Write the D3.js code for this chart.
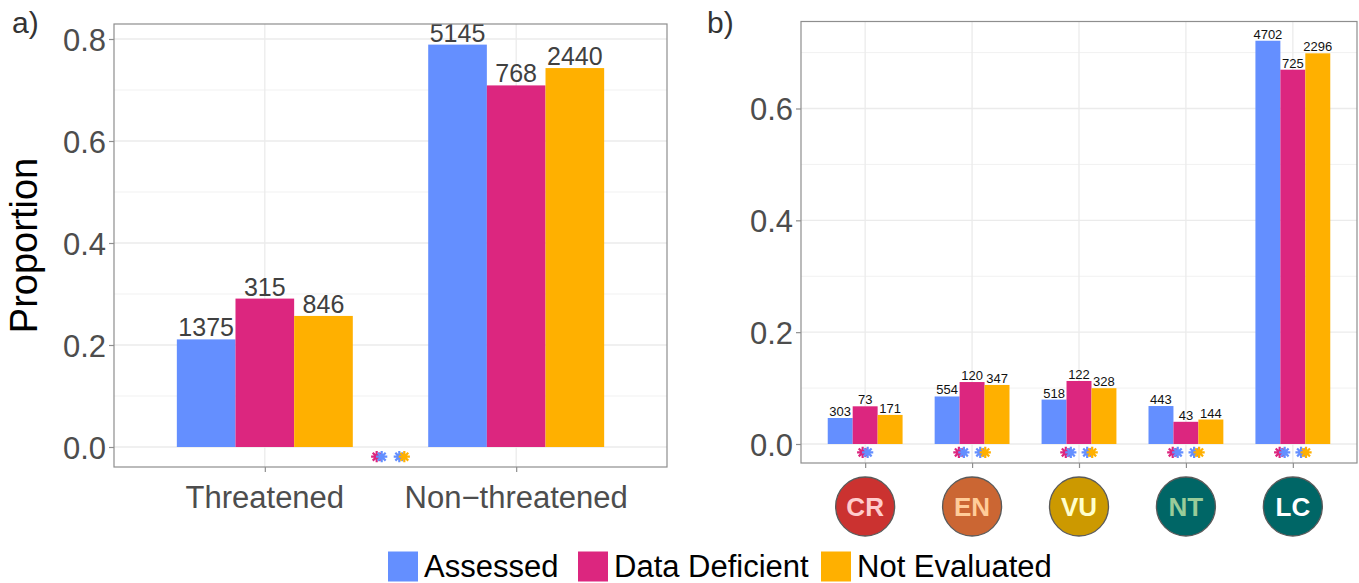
<!DOCTYPE html>
<html>
<head>
<meta charset="utf-8">
<script src="https://cdn.jsdelivr.net/npm/d3@7"></script>
<style>
  html, body { margin: 0; padding: 0; background: #fff; }
  svg { display: block; font-family: "Liberation Sans", Arial, Helvetica, sans-serif; }
</style>
</head>
<body>
<svg id="chart" width="1359" height="583"></svg>
<script>
// ---------- data ----------
const seriesNames  = ["Assessed", "Data Deficient", "Not Evaluated"];
const seriesColors = ["#648FFF", "#DC267F", "#FFB000"];

// panel a
const categoriesA   = ["Threatened", "Non\u2212threatened"];
const assessedA     = [0.211, 0.789];
const dataDefA      = [0.291, 0.709];
const notEvalA      = [0.257, 0.743];
const assessedCntA  = [1375, 5145];
const dataDefCntA   = [315, 768];
const notEvalCntA   = [846, 2440];
const yTicksA       = [0.0, 0.2, 0.4, 0.6, 0.8];
const yMinorA       = [0.1, 0.3, 0.5, 0.7];
// significance asterisks (panel a): x position in category units, colour pair
const sigPosA       = [1.455, 1.545];
const sigPairA      = [["Data Deficient", "Assessed"], ["Assessed", "Not Evaluated"]];
const sigLevelA     = -0.019;

// panel b
const categoriesB   = ["CR", "EN", "VU", "NT", "LC"];
const assessedB     = [0.0465, 0.0850, 0.0794, 0.0679, 0.7212];
const dataDefB      = [0.0674, 0.1108, 0.1127, 0.0397, 0.6694];
const notEvalB      = [0.0520, 0.1056, 0.0998, 0.0438, 0.6987];
const assessedCntB  = [303, 554, 518, 443, 4702];
const dataDefCntB   = [73, 120, 122, 43, 725];
const notEvalCntB   = [171, 347, 328, 144, 2296];
const yTicksB       = [0.0, 0.2, 0.4, 0.6];
const yMinorB       = [0.1, 0.3, 0.5, 0.7];
const badgeFill     = ["#CB3230", "#CB6633", "#CC9900", "#006666", "#006666"];
const badgeText     = ["#FFCCCC", "#FFCC99", "#FFFFCC", "#99CC99", "#FFFFFF"];
// significance asterisks (panel b)
const sigCatB       = ["CR", "EN", "EN", "VU", "VU", "NT", "NT", "LC", "LC"];
const sigOffB       = [0, -0.1, 0.1, -0.1, 0.1, -0.1, 0.1, -0.1, 0.1];
const sigPairB      = [
  ["Data Deficient", "Assessed"],
  ["Data Deficient", "Assessed"], ["Assessed", "Not Evaluated"],
  ["Data Deficient", "Assessed"], ["Assessed", "Not Evaluated"],
  ["Data Deficient", "Assessed"], ["Assessed", "Not Evaluated"],
  ["Data Deficient", "Assessed"], ["Assessed", "Not Evaluated"]
];
const sigLevelB     = -0.015;

// ---------- helpers ----------
const svg = d3.select("#chart");
const color = d3.scaleOrdinal().domain(seriesNames).range(seriesColors);
const GRID = "#EBEBEB", BORDER = "#8E8E8E", AXTXT = "#4D4D4D";
const dodgeW = 0.7;

function asteriskPath(r) {
  const p = d3.path();
  for (let k = 0; k < 4; k++) {
    const a = k * Math.PI / 4;
    p.moveTo(-r * Math.cos(a), -r * Math.sin(a));
    p.lineTo(r * Math.cos(a), r * Math.sin(a));
  }
  return p.toString();
}

function drawPanel(cfg) {
  const g = svg.append("g");
  const { x, y, left, right, top, bottom } = cfg;
  g.append("rect").attr("x", left).attr("y", top)
    .attr("width", right - left).attr("height", bottom - top).attr("fill", "#fff");
  g.selectAll(".ymin").data(cfg.yMinor).join("line")
    .attr("x1", left).attr("x2", right)
    .attr("y1", d => y(d)).attr("y2", d => y(d))
    .attr("stroke", GRID).attr("stroke-width", 0.7);
  g.selectAll(".ymaj").data(cfg.yTicks).join("line")
    .attr("x1", left).attr("x2", right)
    .attr("y1", d => y(d)).attr("y2", d => y(d))
    .attr("stroke", GRID).attr("stroke-width", 1.3);
  g.selectAll(".xmaj").data(cfg.categories).join("line")
    .attr("x1", (d, i) => x(i + 1)).attr("x2", (d, i) => x(i + 1))
    .attr("y1", top).attr("y2", bottom)
    .attr("stroke", GRID).attr("stroke-width", 1.3);

  const series = [cfg.assessed, cfg.dataDef, cfg.notEval];
  const counts = [cfg.assessedCnt, cfg.dataDefCnt, cfg.notEvalCnt];
  const bw = dodgeW / 3;
  series.forEach((vals, s) => {
    const gg = g.append("g");
    gg.selectAll("rect").data(vals).join("rect")
      .attr("x", (d, i) => x(i + 1 - dodgeW / 2 + s * bw))
      .attr("width", (d, i) => x(i + 1 - dodgeW / 2 + (s + 1) * bw) - x(i + 1 - dodgeW / 2 + s * bw))
      .attr("y", d => y(d))
      .attr("height", d => y(0) - y(d))
      .attr("fill", seriesColors[s]);
    gg.selectAll("text").data(vals).join("text")
      .attr("x", (d, i) => x(i + 1 - dodgeW / 2 + (s + 0.5) * bw))
      .attr("y", d => y(d) - cfg.labelGap)
      .attr("text-anchor", "middle")
      .attr("font-size", cfg.labelSize)
      .attr("fill", cfg.labelColor)
      .text((d, i) => counts[s][i]);
  });

  const ast = asteriskPath(5.6);
  cfg.sig.forEach(sg => {
    sg.pair.forEach((name, k) => {
      g.append("path")
        .attr("d", ast)
        .attr("transform", `translate(${x(sg.pos) + (k === 0 ? -2.5 : 2.5)},${y(sg.level)})`)
        .attr("fill", "none")
        .attr("stroke", color(name))
        .attr("stroke-width", 2.2);
    });
  });

  g.append("rect").attr("x", left).attr("y", top)
    .attr("width", right - left).attr("height", bottom - top)
    .attr("fill", "none").attr("stroke", BORDER).attr("stroke-width", 1.2);

  const ya = g.append("g").attr("transform", `translate(${left},0)`)
    .call(d3.axisLeft(y).tickValues(cfg.yTicks).tickFormat(d3.format(".1f")).tickSize(5).tickPadding(3));
  ya.select(".domain").remove();
  ya.selectAll("line").attr("stroke", BORDER).attr("stroke-width", 1.2);
  ya.selectAll("text").attr("font-size", 31).attr("fill", AXTXT)
    .attr("font-family", "Liberation Sans, Arial, sans-serif").attr("dy", "0.36em");

  const xa = g.append("g").attr("transform", `translate(0,${bottom})`)
    .call(d3.axisBottom(x).tickValues(cfg.categories.map((c, i) => i + 1))
      .tickFormat("").tickSize(5));
  xa.select(".domain").remove();
  xa.selectAll("line").attr("stroke", BORDER).attr("stroke-width", 1.2);
  return g;
}

// ---------- panel a ----------
const A = { left: 114, right: 667, top: 24, bottom: 467 };
A.x = d3.scaleLinear().domain([0.4, 2.6]).range([A.left, A.right]);
A.y = d3.scaleLinear().domain([0, 0.8]).range([447, 39]);
const gA = drawPanel(Object.assign(A, {
  categories: categoriesA, yTicks: yTicksA, yMinor: yMinorA,
  assessed: assessedA, dataDef: dataDefA, notEval: notEvalA,
  assessedCnt: assessedCntA, dataDefCnt: dataDefCntA, notEvalCnt: notEvalCntA,
  labelSize: 25, labelColor: "#404040", labelGap: 3,
  sig: sigPosA.map((p, i) => ({ pos: p, pair: sigPairA[i], level: sigLevelA }))
}));
gA.selectAll(".catlab").data(categoriesA).join("text")
  .attr("x", (d, i) => A.x(i + 1)).attr("y", 508)
  .attr("text-anchor", "middle").attr("font-size", 31).attr("fill", AXTXT)
  .text(d => d);

// ---------- panel b ----------
const B = { left: 801, right: 1357, top: 21.5, bottom: 463 };
B.x = d3.scaleLinear().domain([0.4, 5.6]).range([B.left, B.right]);
B.y = d3.scaleLinear().domain([0, 0.6]).range([444, 108.5]);
const gB = drawPanel(Object.assign(B, {
  categories: categoriesB, yTicks: yTicksB, yMinor: yMinorB,
  assessed: assessedB, dataDef: dataDefB, notEval: notEvalB,
  assessedCnt: assessedCntB, dataDefCnt: dataDefCntB, notEvalCnt: notEvalCntB,
  labelSize: 13, labelColor: "#111", labelGap: 2,
  sig: sigCatB.map((c, i) => ({ pos: categoriesB.indexOf(c) + 1 + sigOffB[i], pair: sigPairB[i], level: sigLevelB }))
}));
const badges = gB.selectAll(".badge").data(categoriesB).join("g")
  .attr("transform", (d, i) => `translate(${B.x(i + 1)},506.5)`);
badges.append("circle").attr("r", 29.5)
  .attr("fill", (d, i) => badgeFill[i]).attr("stroke", "#5a5a5a").attr("stroke-width", 1.3);
badges.append("text").attr("text-anchor", "middle").attr("dy", "0.36em")
  .attr("font-size", 26).attr("font-weight", "bold")
  .attr("fill", (d, i) => badgeText[i]).text(d => d);

// ---------- titles ----------
svg.append("text").attr("x", 12).attr("y", 33).attr("font-size", 30).attr("fill", "#333").text("a)");
svg.append("text").attr("x", 707).attr("y", 33).attr("font-size", 30).attr("fill", "#333").text("b)");
svg.append("text")
  .attr("transform", `translate(37,${(A.top + A.bottom) / 2}) rotate(-90)`)
  .attr("text-anchor", "middle").attr("font-size", 38).attr("fill", "#000")
  .text("Proportion");

// ---------- legend ----------
const legX = [388, 578, 821];
const leg = svg.append("g");
const li = leg.selectAll("g").data(seriesNames).join("g")
  .attr("transform", (d, i) => `translate(${legX[i]},551.5)`);
li.append("rect").attr("width", 30).attr("height", 30).attr("fill", d => color(d));
li.append("text").attr("x", 36).attr("y", 25.5).attr("font-size", 31).attr("fill", "#000").text(d => d);
</script>
</body>
</html>
